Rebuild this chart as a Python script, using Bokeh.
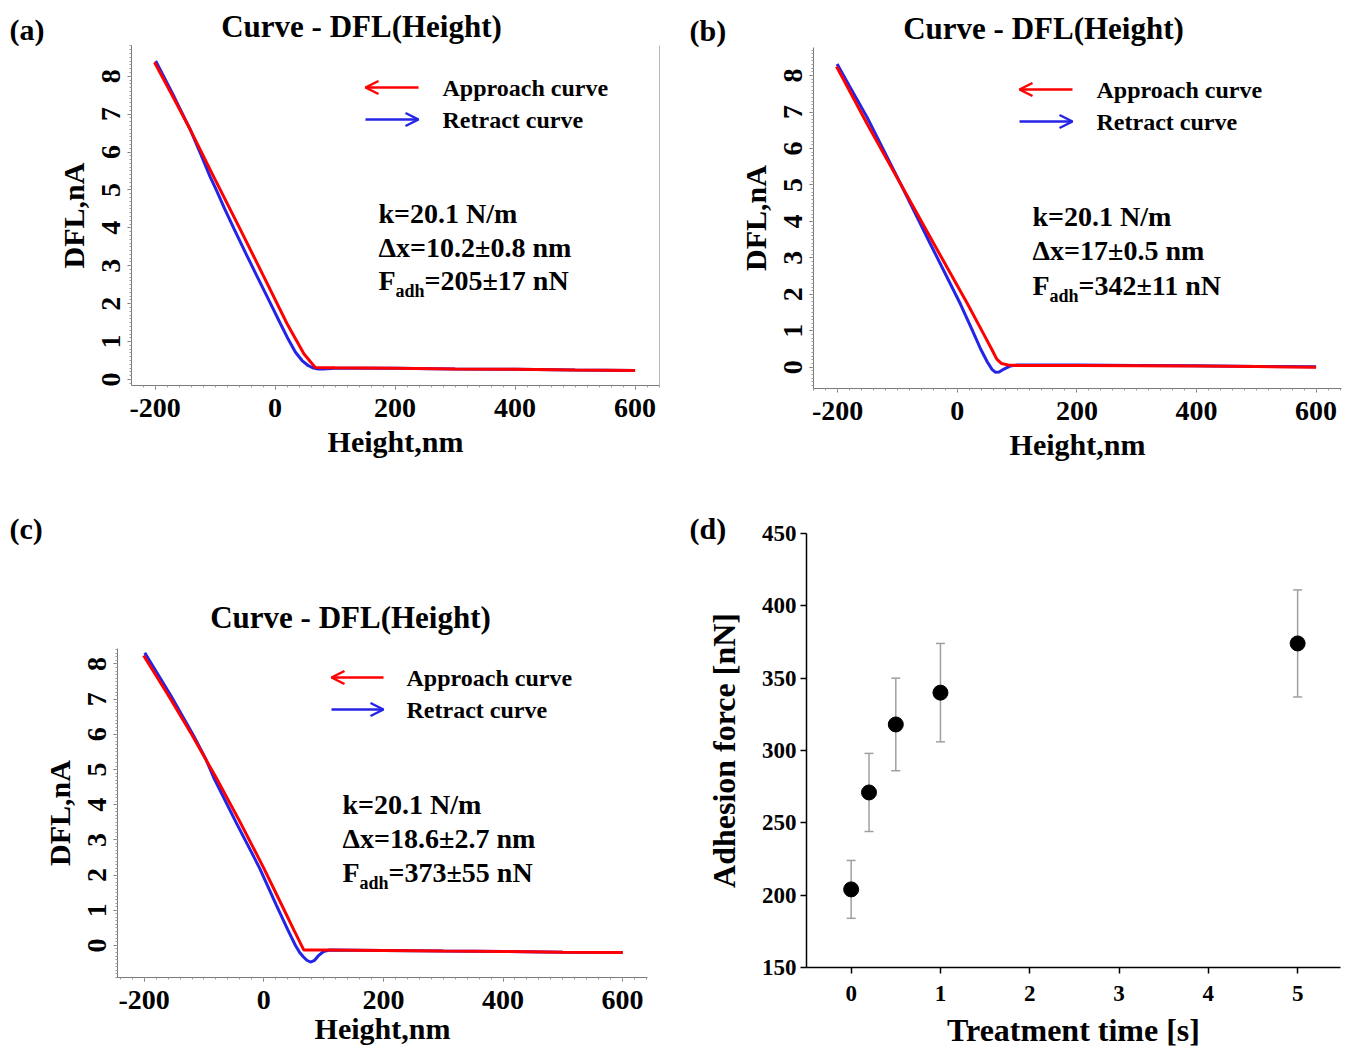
from bokeh.plotting import figure
from bokeh.models import (Label, Arrow, OpenHead, TeeHead, Whisker, ColumnDataSource,
                          LinearAxis, SingleIntervalTicker, FixedTicker, Range1d,
                          PrintfTickFormatter)
from bokeh.layouts import column, row
from bokeh.embed import file_html
from bokeh.resources import INLINE

FONT = "Liberation Serif"
RED = "#ff0000"
BLUE = "#2424e6"

# ---------------- data ----------------
# panel (a)
a_app_x = [-201, -170, -141, -102, -58, -19, 20, 48, 60, 67, 100, 200, 300, 400, 500, 600]
a_app_y = [8.37, 7.45, 6.58, 5.34, 3.96, 2.72, 1.47, 0.68, 0.45, 0.32, 0.31, 0.30, 0.28, 0.27, 0.25, 0.24]
a_ret_x = [-199, -168, -141, -123, -108, -98, -84, -68, -48, -30, -10.6, 9, 22, 34, 45, 55, 64, 72, 80,
           100, 200, 300, 400, 500, 600]
a_ret_y = [8.40, 7.45, 6.58, 5.91, 5.34, 5.00, 4.50, 3.96, 3.30, 2.72, 2.10, 1.47, 1.06, 0.72, 0.50, 0.37, 0.30, 0.28, 0.28,
           0.30, 0.30, 0.28, 0.27, 0.25, 0.24]
# panel (b)
b_app_x = [-202, -150, -95, -39, 17, 45, 58, 66, 74, 85, 100, 200, 300, 400, 500, 600]
b_app_y = [8.25, 6.65, 5.03, 3.38, 1.74, 0.88, 0.48, 0.22, 0.10, 0.06, 0.05, 0.05, 0.04, 0.03, 0.02, 0.0]
b_ret_x = [-201, -180, -151, -100, -45, 5, 25, 39, 50, 58, 64, 70, 78, 88, 100, 200, 300, 400, 500, 600]
b_ret_y = [8.32, 7.70, 6.86, 5.20, 3.38, 1.74, 1.02, 0.50, 0.15, -0.06, -0.14, -0.13, -0.05, 0.03, 0.06, 0.06, 0.05, 0.04, 0.02, 0.01]
# panel (c)
c_app_x = [-201, -160, -120, -80, -40, 0, 30, 50, 67, 100, 200, 300, 400, 500, 600]
c_app_y = [8.24, 7.12, 5.98, 4.78, 3.52, 2.20, 1.15, 0.45, -0.13, -0.13, -0.14, -0.16, -0.17, -0.19, -0.20]
c_ret_x = [-199, -156, -118, -97, -84, -47, -7, 21, 40, 53, 60, 66, 72, 78, 85, 92, 100, 110,
           200, 300, 400, 500, 600]
c_ret_y = [8.32, 7.12, 5.98, 5.30, 4.78, 3.52, 2.20, 1.15, 0.45, 0.0, -0.20, -0.32, -0.42, -0.47, -0.42, -0.28, -0.17, -0.13,
           -0.14, -0.16, -0.17, -0.19, -0.20]
# panel (d)
d_time = [0, 0.2, 0.5, 1, 5]
d_force = [204, 271, 318, 340, 374]
d_err = [20, 27, 32, 34, 37]
d_xticks = [0, 1, 2, 3, 4, 5]
d_yticks = [150, 200, 250, 300, 350, 400, 450]

curve_title = "Curve - DFL(Height)"
legend_labels = ["Approach curve", "Retract curve"]
k_text = "k=20.1 N/m"
dx_texts = ["\u0394x=10.2\u00b10.8 nm", "\u0394x=17\u00b10.5 nm", "\u0394x=18.6\u00b12.7 nm"]
fadh_texts = ["=205\u00b117 nN", "=342\u00b111 nN", "=373\u00b155 nN"]

# ---------------- geometry (page pixel coordinates) ----------------
# ox, oy, w, h: figure box; fl, ft, fw, fh: plotting region; x0..x1, y0..y1: its data limits
PA = dict(ox=0, oy=0, w=676, h=500, fl=131, ft=45, fw=528, fh=340, x0=-239.3, x1=640.7, y0=-0.158, y1=8.81)
PB = dict(ox=676, oy=0, w=674, h=500, fl=813, ft=47, fw=528, fh=341, x0=-240.5, x1=642.5, y0=-0.584, y1=8.77)
PC = dict(ox=0, oy=500, w=676, h=548, fl=117, ft=648, fw=530, fh=329, x0=-244.6, x1=641.6, y0=-0.91, y1=8.44)
PD = dict(ox=676, oy=500, w=674, h=548, fl=806, ft=533, fw=534, fh=434, x0=-0.5, x1=5.48, y0=150, y1=450)


def to_data(P, X, Y):
    x = P['x0'] + (X - P['fl']) * (P['x1'] - P['x0']) / P['fw']
    y = P['y1'] - (Y - P['ft']) * (P['y1'] - P['y0']) / P['fh']
    return x, y


def new_fig(P):
    xl, yt = to_data(P, P['ox'], P['oy'])
    xr, yb = to_data(P, P['ox'] + P['w'], P['oy'] + P['h'])
    p = figure(width=P['w'], height=P['h'],
               x_range=Range1d(xl, xr), y_range=Range1d(yb, yt),
               output_backend="svg", toolbar_location=None,
               x_axis_location=None, y_axis_location=None,
               min_border_left=0, min_border_right=0, min_border_top=0, min_border_bottom=0)
    p.grid.visible = False
    p.outline_line_color = None
    p.background_fill_color = "white"
    p.border_fill_color = "white"
    xa = LinearAxis(fixed_location=P['y0'], bounds=(P['x0'], P['x1']))
    ya = LinearAxis(fixed_location=P['x0'], bounds=(P['y0'], P['y1']))
    p.add_layout(xa, "below")
    p.add_layout(ya, "left")
    return p, xa, ya


def add_text(p, P, X, Y, text, size, align="left", baseline="middle", color="black"):
    x, y = to_data(P, X, Y)
    p.add_layout(Label(x=x, y=y, text=text, text_font=FONT, text_font_style="bold",
                       text_font_size=f"{size}px", text_align=align, text_baseline=baseline,
                       text_color=color))


def add_arrow(p, P, Xs, Xe, Y, color):
    xs, y = to_data(P, Xs, Y)
    xe, _ = to_data(P, Xe, Y)
    p.add_layout(Arrow(end=OpenHead(size=13, line_color=color, line_width=2.5),
                       x_start=xs, y_start=y, x_end=xe, y_end=y,
                       line_color=color, line_width=2.5))


def style_axis(ax, tick_size, label_size):
    ax.axis_label_text_font = FONT
    ax.axis_label_text_font_style = "bold"
    ax.axis_label_text_font_size = f"{label_size}px"
    ax.major_label_text_font = FONT
    ax.major_label_text_font_style = "bold"
    ax.major_label_text_font_size = f"{tick_size}px"
    ax.major_label_text_color = "black"
    ax.axis_label_text_color = "black"
    ax.formatter = PrintfTickFormatter(format="%d")


def curve_panel(P, app_x, app_y, ret_x, ret_y, letter, letter_pos, title_pos, leg, txt,
                dx_text, f_text, xlabel_standoff=5, right_border=False):
    p, xa, ya = new_fig(P)
    p.line(ret_x, ret_y, color=BLUE, line_width=3)
    p.line(app_x, app_y, color=RED, line_width=3)

    xa.ticker = SingleIntervalTicker(interval=200, num_minor_ticks=10)
    ya.ticker = SingleIntervalTicker(interval=1, num_minor_ticks=10)
    for ax in (xa, ya):
        style_axis(ax, 28, 30)
        ax.axis_line_color = "#7a7a7a"
        ax.major_tick_line_color = "#7a7a7a"
        ax.minor_tick_line_color = "#9a9a9a"
        ax.major_tick_out = 4
        ax.major_tick_in = 0
        ax.minor_tick_out = 2
        ax.minor_tick_in = 0
    ya.major_label_orientation = "vertical"
    ya.axis_label = "DFL,nA"
    ya.major_label_standoff = 7
    ya.axis_label_standoff = 10
    xa.axis_label = "Height,nm"
    xa.major_label_standoff = 9
    xa.axis_label_standoff = xlabel_standoff

    if right_border:
        rax = LinearAxis(fixed_location=P['x1'], bounds=(P['y0'], P['y1']),
                         ticker=FixedTicker(ticks=[]), axis_line_color="#b5b5b5",
                         major_tick_line_color=None, minor_tick_line_color=None)
        p.add_layout(rax, "right")

    add_text(p, P, letter_pos[0], letter_pos[1], letter, 30)
    add_text(p, P, title_pos[0], title_pos[1], curve_title, 31, align="center")

    tipL, tailR, textX, yA, yR = leg
    add_arrow(p, P, tailR, tipL, yA, RED)
    add_arrow(p, P, tipL, tailR, yR, BLUE)
    add_text(p, P, textX, yA, legend_labels[0], 24)
    add_text(p, P, textX, yR, legend_labels[1], 24)

    left, c1, c2, c3 = txt
    add_text(p, P, left, c1, k_text, 28)
    add_text(p, P, left, c2, dx_text, 28)
    add_text(p, P, left, c3, "F", 28)
    add_text(p, P, left + 17, c3 + 11, "adh", 18)
    add_text(p, P, left + 46, c3, f_text, 28)
    return p


pa = curve_panel(PA, a_app_x, a_app_y, a_ret_x, a_ret_y, "(a)", (9, 29), (361, 26),
                 (365, 418, 442, 87, 119), (378, 212.5, 246.5, 279.5), dx_texts[0], fadh_texts[0],
                 right_border=True)
pb = curve_panel(PB, b_app_x, b_app_y, b_ret_x, b_ret_y, "(b)", (689, 30), (1043, 27.5),
                 (1019, 1072, 1096, 89, 121), (1032, 215.5, 249.5, 284.5), dx_texts[1], fadh_texts[1])
pc = curve_panel(PC, c_app_x, c_app_y, c_ret_x, c_ret_y, "(c)", (9, 528), (350, 616.5),
                 (331, 383, 406, 677, 709), (342, 803.5, 837.5, 871.5), dx_texts[2], fadh_texts[2],
                 xlabel_standoff=0)

# ---------------- panel (d) ----------------
pd_, xd, yd = new_fig(PD)
src = ColumnDataSource(dict(t=d_time, f=d_force,
                            lo=[f - e for f, e in zip(d_force, d_err)],
                            hi=[f + e for f, e in zip(d_force, d_err)]))
wcol = "#a0a0a0"
pd_.add_layout(Whisker(source=src, base="t", upper="hi", lower="lo", line_color=wcol, line_width=1.5,
                       upper_head=TeeHead(size=9, line_color=wcol, line_width=1.5),
                       lower_head=TeeHead(size=9, line_color=wcol, line_width=1.5)))
pd_.scatter("t", "f", source=src, size=15, color="black")
xd.ticker = FixedTicker(ticks=d_xticks)
yd.ticker = FixedTicker(ticks=d_yticks)
for ax in (xd, yd):
    style_axis(ax, 23, 32)
    ax.axis_line_color = "black"
    ax.axis_line_width = 1.5
    ax.major_tick_line_color = "black"
    ax.major_tick_line_width = 1.5
    ax.major_tick_out = 6
    ax.major_tick_in = 0
    ax.minor_tick_line_color = None
yd.axis_label = "Adhesion force [nN]"
yd.major_label_standoff = 4
yd.axis_label_standoff = 17
xd.axis_label = "Treatment time [s]"
xd.major_label_standoff = 12
xd.axis_label_standoff = 8
add_text(pd_, PD, 689, 528, "(d)", 30)

layout = column(row(pa, pb), row(pc, pd_))
open("out.html", "w").write(file_html(layout, INLINE))
